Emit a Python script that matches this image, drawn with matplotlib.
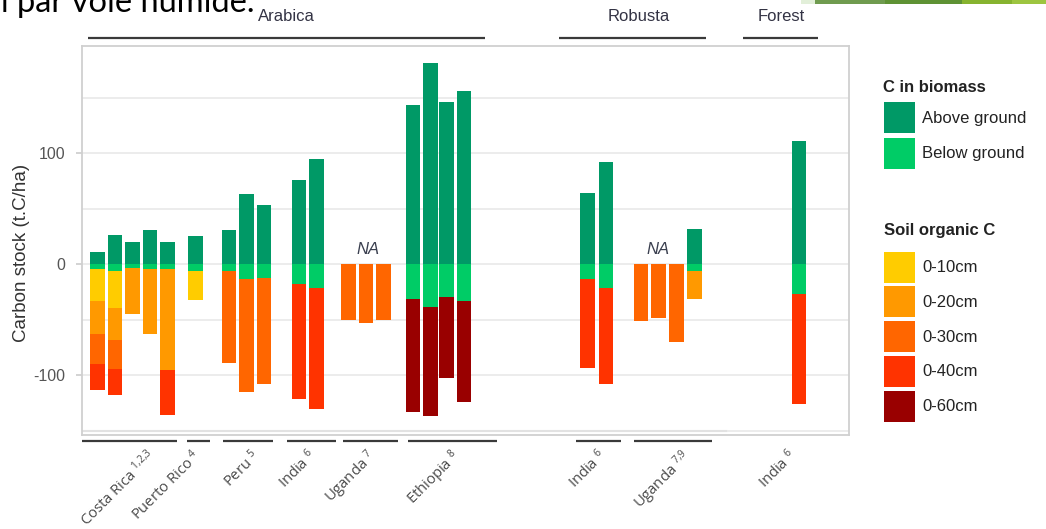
import numpy as np
import matplotlib
matplotlib.use("Agg")
import matplotlib.pyplot as plt
from matplotlib.patches import Rectangle
from matplotlib.transforms import blended_transform_factory

plt.rcParams["font.family"] = ["Liberation Sans", "DejaVu Sans"]
plt.rcParams["mathtext.fontset"] = "custom"
plt.rcParams["mathtext.rm"] = "Open Sans"
plt.rcParams["mathtext.it"] = "Open Sans:italic"

# ---- data (t C/ha) ----------------------------------------------------------
# one entry per bar, left to right; NaN = not measured / not present
above_ground = [10.5, 26.1, 19.5, 30.3, 19.5, 24.9, 30.3, 62.8, 53.4, 75.7, 94.9,
                np.nan, np.nan, np.nan, 143.2, 180.8, 145.6, 156.0,
                64.2, 91.5, np.nan, np.nan, np.nan, 31.8, 110.5]
below_ground = [4.5, 6.0, 3.3, 4.8, 4.8, 6.3, 6.3, 13.8, 12.6, 18.0, 21.6,
                np.nan, np.nan, np.nan, 31.2, 38.8, 30.0, 33.6,
                13.9, 21.4, np.nan, np.nan, np.nan, 6.0, 26.6]
# cumulative soil organic C stock down to each depth
soil_0_10 = [29.1, 33.9, np.nan, np.nan, np.nan, 25.7, np.nan, np.nan, np.nan, np.nan, np.nan,
             np.nan, np.nan, np.nan, np.nan, np.nan, np.nan, np.nan,
             np.nan, np.nan, np.nan, np.nan, np.nan, np.nan, np.nan]
soil_0_20 = [58.9, 62.7, 41.4, 58.2, 90.7, np.nan, np.nan, np.nan, np.nan, np.nan, np.nan,
             np.nan, np.nan, np.nan, np.nan, np.nan, np.nan, np.nan,
             np.nan, np.nan, np.nan, np.nan, np.nan, 25.9, np.nan]
soil_0_30 = [85.9, 88.6, np.nan, np.nan, np.nan, np.nan, 82.7, 101.2, 95.8, np.nan, np.nan,
             50.2, 52.9, 50.2, np.nan, np.nan, np.nan, np.nan,
             np.nan, np.nan, 51.4, 48.7, 70.6, np.nan, np.nan]
soil_0_40 = [109.0, 112.0, np.nan, np.nan, 131.2, np.nan, np.nan, np.nan, np.nan, 103.3, 108.7,
             np.nan, np.nan, np.nan, np.nan, np.nan, np.nan, np.nan,
             80.1, 86.7, np.nan, np.nan, np.nan, np.nan, 99.4]
soil_0_60 = [np.nan, np.nan, np.nan, np.nan, np.nan, np.nan, np.nan, np.nan, np.nan, np.nan, np.nan,
             np.nan, np.nan, np.nan, 102.3, 97.7, 72.8, 90.9,
             np.nan, np.nan, np.nan, np.nan, np.nan, np.nan, np.nan]

site_names = ["Costa Rica", "Puerto Rico", "Peru", "India", "Uganda", "Ethiopia",
              "India", "Uganda", "India"]
site_refs = ["1,2,3", "4", "5", "6", "7", "8", "6", "7,9", "6"]
system_names = ["Arabica", "Robusta", "Forest"]
na_value = 13.5

# ---- layout -----------------------------------------------------------------
bar_pos = [0, 1, 2, 3, 4, 5.6, 7.5, 8.5, 9.5, 11.5, 12.5,
           14.3, 15.3, 16.3, 18.0, 19.0, 19.9, 20.9,
           27.95, 29.0, 31.0, 32.0, 33.0, 34.05, 40.0]
bar_w = 0.83
site_spans = [(-0.88, 4.53), (5.1, 6.41), (7.16, 10.0), (10.79, 13.6), (13.98, 17.15),
              (17.72, 22.79), (27.28, 29.84), (30.6, 35.05)]
site_label_x = [3.4, 5.95, 9.3, 12.5, 15.9, 20.7, 29.05, 33.9, 39.9]
system_spans = [(-0.52, 22.09), (26.33, 34.69), (36.78, 41.1)]
system_label_x = [10.78, 30.87, 39.0]
na_x = [15.42, 31.97]

C_AG, C_BG = "#009966", "#00CC66"
SOIL_COLORS = {"0-10cm": "#FFCC00", "0-20cm": "#FF9900", "0-30cm": "#FF6600",
               "0-40cm": "#FF3300", "0-60cm": "#990000"}

W, H = 1046, 529
fig = plt.figure(figsize=(W / 100, H / 100), dpi=100)


def fx(x):
    return x / W


def fy(y):
    return 1 - y / H


ax = fig.add_axes([fx(82), fy(435), fx(849) - fx(82), fy(46) - fy(435)])
ax.set_xlim(-0.884, 42.85)
ax.set_ylim(-154.05, 196.4)

# grid
for v in [-150, -100, -50, 0, 50, 100, 150]:
    ax.axhline(v, color="#EBEBEB", lw=1.3, zorder=0)
ax.plot([-0.884, 35.83], [-150.5, -150.5], color="#E2E2E2", lw=1.5, zorder=0.5)

# bars
pos = np.array(bar_pos)
ag = np.nan_to_num(np.array(above_ground))
bg = np.nan_to_num(np.array(below_ground))
ax.bar(pos, ag, bar_w, bottom=0, color=C_AG, zorder=2)
ax.bar(pos, -bg, bar_w, bottom=0, color=C_BG, zorder=2)
layers = [("0-60cm", soil_0_60), ("0-40cm", soil_0_40), ("0-30cm", soil_0_30),
          ("0-20cm", soil_0_20), ("0-10cm", soil_0_10)]
for name, vals in layers:
    v = np.array(vals, dtype=float)
    m = ~np.isnan(v)
    ax.bar(pos[m], -v[m], bar_w, bottom=-bg[m], color=SOIL_COLORS[name], zorder=2)

for x in na_x:
    ax.text(x, na_value, "NA", ha="center", va="center", fontsize=12,
            fontstyle="italic", color="#3a3f4f", zorder=3)

# axes styling
for s in ax.spines.values():
    s.set_color("#D0D0D0")
    s.set_linewidth(1.3)
ax.set_xticks([])
ax.set_yticks([-100, 0, 100])
ax.set_yticklabels(["-100", "0", "100"])
ax.tick_params(axis="y", length=4, width=1.1, color="#C8C8C8", pad=8,
               labelsize=11.5, labelcolor="#555555")

fig.text(fx(22), fy(253), "Carbon stock (t.C/ha)", rotation=90, ha="center",
         va="center", fontsize=13.5, color="#333333")

# site brackets and labels below the panel
tr = blended_transform_factory(ax.transData, ax.transAxes)
y_site = (435 - 441) / 389
for x0, x1 in site_spans:
    ax.plot([x0, x1], [y_site, y_site], color="#3a3a3a", lw=1.6, transform=tr,
            clip_on=False, solid_capstyle="butt")
for x, name, ref in zip(site_label_x, site_names, site_refs):
    ax.text(x, (435 - 457) / 389, name + r" $^{" + ref.replace(",", "{,}") + r"}$",
            transform=tr, rotation=45, rotation_mode="anchor", ha="right",
            va="baseline", fontsize=10.6, family="Open Sans", color="#4a4a4a")

# system brackets above the panel
y_sys = (435 - 38) / 389
for x0, x1 in system_spans:
    ax.plot([x0, x1], [y_sys, y_sys], color="#3a3a3a", lw=1.6, transform=tr,
            clip_on=False, solid_capstyle="butt")
for x, name in zip(system_label_x, system_names):
    ax.text(x, (435 - 16.5) / 389, name, transform=tr, ha="center", va="center",
            fontsize=12, color="#333344")

# legend
def legend_key(y_top, color, label):
    fig.patches.append(Rectangle((fx(884), fy(y_top + 31)), fx(31), fy(0) - fy(31),
                                 transform=fig.transFigure, facecolor=color,
                                 edgecolor="none"))
    fig.text(fx(922), fy(y_top + 16), label, ha="left", va="center",
             fontsize=12, color="#222222")


fig.text(fx(883), fy(88), "C in biomass", ha="left", va="center",
         fontsize=12, fontweight="bold", color="#222222")
legend_key(102, C_AG, "Above ground")
legend_key(137.5, C_BG, "Below ground")
fig.text(fx(884), fy(231), "Soil organic C", ha="left", va="center",
         fontsize=12, fontweight="bold", color="#222222")
for i, (name, col) in enumerate(SOIL_COLORS.items()):
    legend_key(251.5 + i * 34.8, col, name)

# slide header remnants
fig.text(fx(1), fy(12), "l par voie humide.", ha="left", va="baseline",
         fontsize=23.5, family="Lato", color="#000000")
strip = [(801, 815, "#E2EFD9"), (815, 885, "#6F9B4F"), (885, 962, "#5E9234"),
         (962, 1012, "#86B32F"), (1012, 1046, "#9DC540")]
for x0, x1, c in strip:
    fig.patches.append(Rectangle((fx(x0), fy(4)), fx(x1 - x0), fy(0) - fy(4),
                                 transform=fig.transFigure, facecolor=c,
                                 edgecolor="none"))

fig.savefig("out.png", dpi=100)
